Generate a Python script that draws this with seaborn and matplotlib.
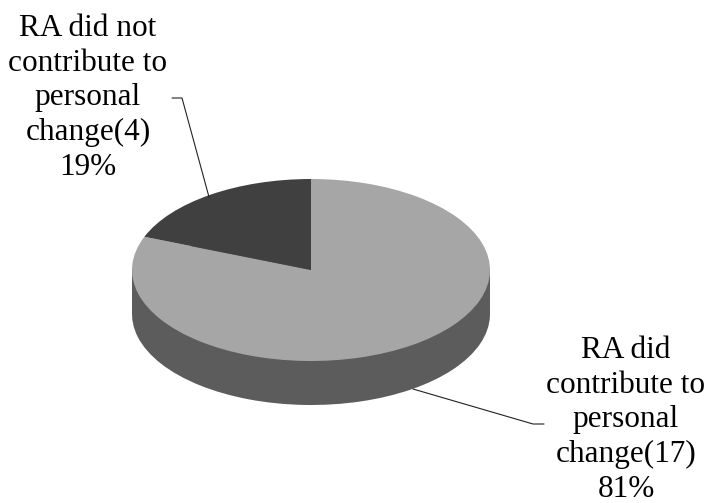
import numpy as np
import matplotlib
matplotlib.use('Agg')
import matplotlib.pyplot as plt
import seaborn as sns

labels = ['RA did\ncontribute to\npersonal\nchange(17)\n81%',
          'RA did not\ncontribute to\npersonal\nchange(4)\n19%']
counts = [17, 4]
top_colors = ['#a6a6a6', '#404040']
wall_color = '#5c5c5c'

sns.set_theme(style='white')
plt.rcParams['font.family'] = ['Liberation Serif', 'DejaVu Sans']

W, H = 709, 503
cx, cy = 311, 270
rx, ry = 179, 91
depth = 44 / ry

fig = plt.figure(figsize=(W / 100, H / 100), dpi=100)
# one data unit is the pie radius, axes squashed to get the tilted look
ax = fig.add_axes([(cx - 2 * rx) / W, 1 - (cy + 3 * ry) / H, 4 * rx / W, 6 * ry / H])

# side wall of the disc
ax.pie(counts, radius=1, center=(0, -depth), startangle=90, counterclock=False,
       colors=[wall_color, wall_color], wedgeprops={'linewidth': 0})
ax.fill_between([-1, 1], [-depth, -depth], [0, 0], color=wall_color, linewidth=0)
# top face
ax.pie(counts, radius=1, startangle=90, counterclock=False,
       colors=sns.color_palette(top_colors), wedgeprops={'linewidth': 0})

ax.set_aspect('auto')
ax.set_xlim(-2, 2)
ax.set_ylim(-3, 3)
ax.axis('off')

# labels and leader lines, pixel coordinates of the figure
def to_fig(x, y):
    return x / W, 1 - y / H

fig.text(*to_fig(626, 420), labels[0], ha='center', va='center', fontsize=22.5,
         color='black', linespacing=1.26)
fig.text(*to_fig(88, 98), labels[1], ha='center', va='center', fontsize=22.5,
         color='black', linespacing=1.26)

for xs, ys in [([413, 533, 544], [389, 424, 424]), ([209, 182, 172], [197, 98, 98])]:
    fx, fy = to_fig(np.array(xs), np.array(ys))
    fig.add_artist(plt.Line2D(fx, fy, color='#222222', lw=0.8))

fig.savefig('out.png', dpi=100, facecolor='white')
